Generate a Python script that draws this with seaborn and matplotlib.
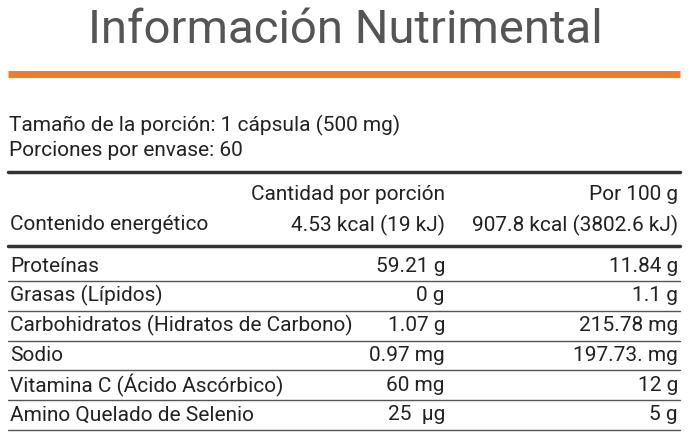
import matplotlib
matplotlib.use('Agg')
import matplotlib.pyplot as plt
import seaborn as sns

sns.set_theme(style="white")
plt.rcParams['font.family'] = ['Roboto', 'DejaVu Sans']

# --- Data ---
title = "Información Nutrimental"
serving_lines = ["Tamaño de la porción: 1 cápsula (500 mg)", "Porciones por envase: 60"]
col_headers = ["Cantidad por porción", "Por 100 g"]
energy = ["Contenido energético", "4.53 kcal (19 kJ)", "907.8 kcal (3802.6 kJ)"]
nutrients = ["Proteínas", "Grasas (Lípidos)", "Carbohidratos (Hidratos de Carbono)",
             "Sodio", "Vitamina C (Ácido Ascórbico)", "Amino Quelado de Selenio"]
per_portion = ["59.21 g", "0 g", "1.07 g", "0.97 mg", "60 mg", "25  µg"]
per_100g = ["11.84 g", "1.1 g", "215.78 mg", "197.73. mg", "12 g", "5 g"]

fig = plt.figure(figsize=(7, 4.47), dpi=100)
ax = fig.add_axes([0, 0, 1, 1])
ax.set_xlim(0, 700)
ax.set_ylim(447, 0)
ax.axis('off')

txt = '#222222'
fs = 15
ax.text(345, 30, title, ha='center', va='center', fontsize=34, color='#555555')
ax.plot([8, 680], [74, 74], color='#f07b2a', lw=5, solid_capstyle='butt')

ax.text(9, 125, serving_lines[0], va='center', fontsize=fs, color=txt)
ax.text(9, 151, serving_lines[1], va='center', fontsize=fs, color=txt)
ax.plot([8, 680], [172, 172], color='#333333', lw=2.5)

ax.text(445, 195, col_headers[0], ha='right', va='center', fontsize=fs, color=txt)
ax.text(678, 195, col_headers[1], ha='right', va='center', fontsize=fs, color=txt)
ax.text(10, 225, energy[0], va='center', fontsize=fs, color=txt)
ax.text(445, 225, energy[1], ha='right', va='center', fontsize=fs, color=txt)
ax.text(678, 225, energy[2], ha='right', va='center', fontsize=fs, color=txt)
ax.plot([8, 680], [246, 246], color='#333333', lw=2.5)

y0, step = 266, 29.8
for i, (n, a, b) in enumerate(zip(nutrients, per_portion, per_100g)):
    y = y0 + i * step
    ax.text(10, y, n, va='center', fontsize=fs, color=txt)
    ax.text(445, y, a, ha='right', va='center', fontsize=fs, color=txt)
    ax.text(678, y, b, ha='right', va='center', fontsize=fs, color=txt)
    ax.plot([8, 680], [y + 15, y + 15], color='#555555', lw=1)

fig.savefig("out.png", dpi=100)
